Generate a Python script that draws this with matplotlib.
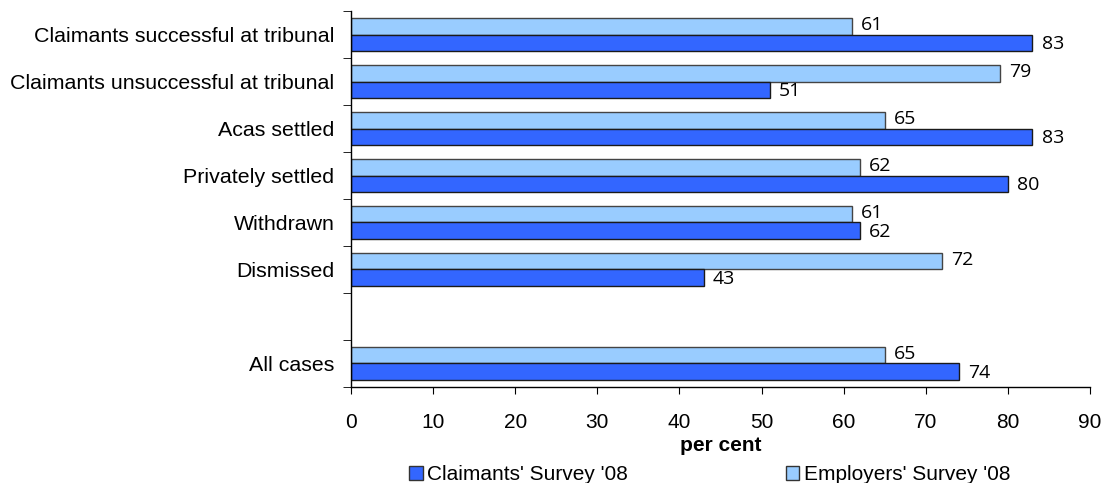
import matplotlib
matplotlib.use("Agg")
import matplotlib.pyplot as plt
import numpy as np
from matplotlib.patches import Patch

categories = [
    "Claimants successful at tribunal",
    "Claimants unsuccessful at tribunal",
    "Acas settled",
    "Privately settled",
    "Withdrawn",
    "Dismissed",
    "",
    "All cases",
]
employers = [61, 79, 65, 62, 61, 72, None, 65]
claimants = [83, 51, 83, 80, 62, 43, None, 74]
x_ticks = [0, 10, 20, 30, 40, 50, 60, 70, 80, 90]

DARK = "#3366ff"
LIGHT = "#99ccff"

plt.rcParams["font.family"] = ["Liberation Sans", "DejaVu Sans"]

fig = plt.figure(figsize=(11.06, 4.83), dpi=100)
ax = fig.add_axes([0.3174, 0.199, 0.6681, 0.778])

n = len(categories)
pos = np.arange(n)
h = 0.355

for i in range(n):
    if employers[i] is None:
        continue
    ax.barh(pos[i] - h / 2, employers[i], height=h, color=LIGHT,
            edgecolor="#444444", linewidth=1.0)
    ax.barh(pos[i] + h / 2, claimants[i], height=h, color=DARK,
            edgecolor="#1a1a1a", linewidth=1.0)
    ax.text(employers[i] + 1.1, pos[i] - h / 2 - 0.02, str(employers[i]),
            va="center", ha="left", fontsize=14, family="Open Sans", color="black")
    ax.text(claimants[i] + 1.1, pos[i] + h / 2 + 0.02, str(claimants[i]),
            va="center", ha="left", fontsize=14, family="Open Sans", color="black")

ax.set_ylim(n - 0.5, -0.5)
ax.set_xlim(0, 90)
ax.set_xticks(x_ticks)
ax.tick_params(axis="x", labelsize=15, length=5, direction="out", pad=14)

ax.set_yticks(pos)
ax.set_yticklabels(categories, fontsize=15.4)
ax.tick_params(axis="y", which="major", length=0, pad=12)
ax.set_yticks(np.arange(n + 1) - 0.5, minor=True)
ax.tick_params(axis="y", which="minor", length=6, direction="out")

for s in ("top", "right"):
    ax.spines[s].set_visible(False)
for s in ("left", "bottom"):
    ax.spines[s].set_linewidth(1.0)

ax.set_xlabel("per cent", fontsize=15, fontweight="bold", labelpad=3)

handles = [
    Patch(facecolor=DARK, edgecolor="#333333", label="Claimants' Survey '08"),
    Patch(facecolor=LIGHT, edgecolor="#333333", label="Employers' Survey '08"),
]
fig.legend(handles=handles, loc="center left", bbox_to_anchor=(0.3698, 0.017),
           ncol=2, frameon=False, fontsize=15, handlelength=0.65,
           handleheight=0.65, handletextpad=0.2, columnspacing=7.6,
           borderpad=0, borderaxespad=0)

fig.savefig("out.png", dpi=100, facecolor="white")
